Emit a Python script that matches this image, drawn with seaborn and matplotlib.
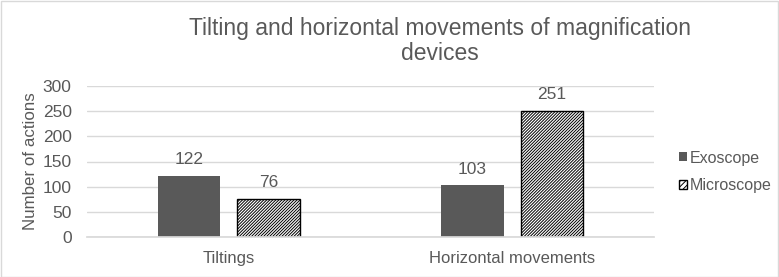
import matplotlib
matplotlib.use("Agg")
import matplotlib.pyplot as plt
import seaborn as sns
import pandas as pd
from matplotlib.patches import Patch, Rectangle

categories = ["Tiltings", "Horizontal movements"]
series_names = ["Exoscope", "Microscope"]
exoscope = [122, 103]
microscope = [76, 251]
yticks = [0, 50, 100, 150, 200, 250, 300]

df = pd.DataFrame({
    "category": categories * 2,
    "device": [series_names[0]] * 2 + [series_names[1]] * 2,
    "value": exoscope + microscope,
})

sns.set_theme(style="white")
plt.rcParams['font.family'] = ['Liberation Sans', 'DejaVu Sans']
plt.rcParams['hatch.linewidth'] = 0.7
txt = "#595959"
HATCH = "/" * 11

fig = plt.figure(figsize=(7.79, 2.77), dpi=100)
ax = fig.add_axes([87/779, 1-237/277, (654-87)/779, (237-86)/277])

sns.barplot(data=df, x="category", y="value", hue="device", order=categories,
            hue_order=series_names, palette=["#595959", "white"],
            width=0.56, gap=0.21, ax=ax, legend=False, saturation=1)

n = len(categories)
for i, p in enumerate(ax.patches):
    if i >= n:
        p.set_hatch(HATCH)
        p.set_edgecolor("black")
        p.set_linewidth(1.0)
    else:
        p.set_edgecolor("none")

for c in ax.containers:
    ax.bar_label(c, fmt="%d", padding=6, fontsize=12.5, color=txt)

ax.set_ylim(0, 300)
ax.set_yticks(yticks)
ax.set_xlim(-0.5, 1.5)
ax.yaxis.grid(True, color="#d9d9d9", linewidth=1)
ax.set_axisbelow(True)
for s in ax.spines.values():
    s.set_visible(False)
ax.spines["bottom"].set_visible(True)
ax.spines["bottom"].set_color("#d9d9d9")
ax.tick_params(axis="y", length=0, labelsize=12.5, colors=txt, pad=11)
ax.tick_params(axis="x", length=0, labelsize=12, colors=txt, pad=10)
ax.set_xlabel("")
ax.set_ylabel("Number of actions", fontsize=12.2, color=txt, labelpad=3)

fig.text(440/779, 1-28/277, "Tilting and horizontal movements of magnification",
         ha="center", va="center", fontsize=16.5, color=txt)
fig.text(440/779, 1-53/277, "devices", ha="center", va="center", fontsize=16.5, color=txt)

handles = [Patch(facecolor="#595959", edgecolor="none"),
           Patch(facecolor="white", edgecolor="black", hatch="//////")]
fig.legend(handles, series_names, loc="center left", bbox_to_anchor=(679/779, 1-172/277),
           frameon=False, fontsize=11.5, labelcolor=txt, handlelength=0.5, handleheight=0.5,
           handletextpad=0.2, labelspacing=0.8, borderaxespad=0, borderpad=0)

fig.patches.append(Rectangle((0.5/779, 0.5/277), 1-1.5/779, 1-1.5/277, transform=fig.transFigure,
                             fill=False, edgecolor="#d9d9d9", linewidth=1))

fig.savefig("out.png", dpi=100)
